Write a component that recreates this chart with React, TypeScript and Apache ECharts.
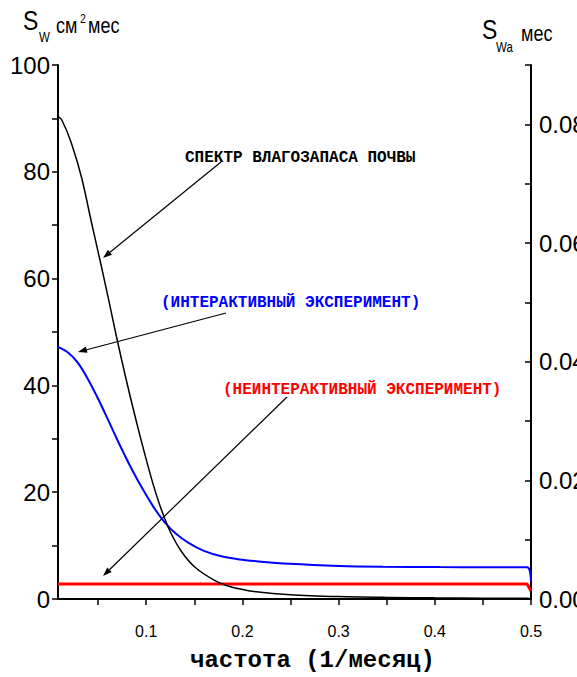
import React, { useEffect, useRef } from "react";
import * as echarts from "echarts";

// ---- data ----
const freqBlack = [0.0083, 0.012, 0.022, 0.033, 0.043, 0.053, 0.061, 0.069, 0.078, 0.088, 0.099, 0.108, 0.116, 0.125, 0.137, 0.151, 0.171, 0.185, 0.197, 0.21, 0.25, 0.3, 0.35, 0.4, 0.45, 0.496, 0.5];
const soilSpectrum = [90.4, 89.8, 85.5, 78.8, 70.6, 62.6, 56, 49.2, 42, 34.5, 26.8, 21, 16.6, 12.6, 8.8, 5.9, 3.5, 2.45, 1.9, 1.45, 0.8, 0.45, 0.3, 0.22, 0.16, 0.12, 0.05];

const freqBlue = [0.0083, 0.019, 0.029, 0.039, 0.05, 0.061, 0.071, 0.078, 0.085, 0.095, 0.107, 0.119, 0.131, 0.144, 0.16, 0.178, 0.197, 0.213, 0.249, 0.301, 0.346, 0.405, 0.45, 0.496, 0.5];
const interactive = [47.2, 46.1, 44.2, 41.3, 37.5, 33.3, 29.4, 26.8, 24.3, 21, 17.4, 14.4, 12.2, 10.5, 9.0, 8.0, 7.4, 7.1, 6.6, 6.2, 6.05, 5.97, 5.95, 5.95, 3.2];

const freqRed = [0.0083, 0.1, 0.2, 0.3, 0.4, 0.496, 0.5];
const nonInteractive = [2.8, 2.8, 2.8, 2.8, 2.8, 2.8, 1.5];

const xLabelValues = [0.1, 0.2, 0.3, 0.4, 0.5];
const xTickValues = [0.05, 0.1, 0.15, 0.2, 0.25, 0.3, 0.35, 0.4, 0.45, 0.5];
const yLabelValues = [0, 20, 40, 60, 80, 100];
const yTickValues = [0, 10, 20, 30, 40, 50, 60, 70, 80, 90, 100];
const y2LabelValues = [0, 0.02, 0.04, 0.06, 0.08];
const y2TickValues = [0, 0.01, 0.02, 0.03, 0.04, 0.05, 0.06, 0.07, 0.08, 0.09];

const SANS = "Liberation Sans";
const MONO = "Liberation Mono";

function arrow(x1: number, y1: number, x2: number, y2: number) {
  const dx = x2 - x1, dy = y2 - y1;
  const len = Math.sqrt(dx * dx + dy * dy);
  const ux = dx / len, uy = dy / len;
  const hl = 9, hw = 3.2;
  const bx = x2 - ux * hl, by = y2 - uy * hl;
  return [
    { type: "line", shape: { x1, y1, x2: bx, y2: by }, style: { stroke: "#000", lineWidth: 1.2 } },
    {
      type: "polygon",
      shape: { points: [[x2, y2], [bx - uy * hw, by + ux * hw], [bx + uy * hw, by - ux * hw]] },
      style: { fill: "#000" },
    },
  ];
}

function txt(text: string, x: number, y: number, size: number, family: string, color = "#000", weight = "normal", scaleX = 1) {
  return {
    type: "text",
    x,
    y,
    scaleX,
    style: {
      text,
      fill: color,
      fontFamily: family,
      fontSize: size,
      fontWeight: weight,
      verticalAlign: "middle",
      align: "left",
    },
  };
}

export default function App() {
  const ref = useRef<HTMLDivElement>(null);
  useEffect(() => {
    document.body.style.margin = "0";
    const chart = echarts.init(ref.current!, null, { renderer: "svg" });
    const pairs = (xs: number[], ys: number[]) => xs.map((x, i) => [x, ys[i]]);
    const N = 0.82;
    chart.setOption({
      animation: false,
      backgroundColor: "#fff",
      grid: { left: 58, right: 46, top: 65, bottom: 78, outerBoundsMode: "none", containLabel: false },
      xAxis: {
        type: "value",
        min: 0.0083,
        max: 0.5,
        axisLine: { show: true, onZero: false, lineStyle: { color: "#000", width: 2 } },
        axisTick: { show: true, customValues: xTickValues, length: 6, lineStyle: { color: "#000", width: 1.5 } },
        axisLabel: {
          customValues: xLabelValues,
          formatter: (v: number) => String(v),
          color: "#000",
          fontFamily: SANS,
          fontSize: 16,
          margin: 24,
        },
        splitLine: { show: false },
      },
      yAxis: [
        {
          type: "value",
          min: 0,
          max: 100,
          position: "left",
          axisLine: { show: true, lineStyle: { color: "#000", width: 2 } },
          axisTick: { show: true, customValues: yTickValues, length: 6, lineStyle: { color: "#000", width: 1.5 } },
          axisLabel: { customValues: yLabelValues, color: "#000", fontFamily: SANS, fontSize: 24, margin: 8 },
          splitLine: { show: false },
        },
        {
          type: "value",
          min: 0,
          max: 0.09,
          position: "right",
          axisLine: { show: true, lineStyle: { color: "#000", width: 2 } },
          axisTick: { show: true, inside: true, customValues: y2TickValues, length: 6, lineStyle: { color: "#000", width: 1.5 } },
          axisLabel: {
            customValues: y2LabelValues,
            formatter: (v: number) => v.toFixed(2),
            color: "#000",
            fontFamily: SANS,
            fontSize: 24,
            margin: 8,
          },
          splitLine: { show: false },
        },
      ],
      series: [
        {
          type: "line",
          yAxisIndex: 0,
          data: pairs(freqRed, nonInteractive),
          showSymbol: false,
          lineStyle: { color: "#ff0000", width: 3 },
          z: 3,
        },
        {
          type: "line",
          yAxisIndex: 0,
          data: pairs(freqBlue, interactive),
          showSymbol: false,
          smooth: 0.3,
          lineStyle: { color: "#0000ff", width: 2 },
          z: 4,
        },
        {
          type: "line",
          yAxisIndex: 0,
          data: pairs(freqBlack, soilSpectrum),
          showSymbol: false,
          smooth: 0.3,
          lineStyle: { color: "#000", width: 1.5 },
          z: 5,
        },
      ],
      graphic: [
        // left axis title
        txt("S", 23, 20, 28, SANS, "#000", "normal", N),
        txt("W", 39, 37, 14, SANS, "#000", "normal", N),
        txt("см", 56, 25, 22, SANS, "#000", "normal", N),
        txt("2", 80, 19, 13, SANS, "#000", "normal", N),
        txt("мес", 88, 25, 22, SANS, "#000", "normal", N),
        // right axis title
        txt("S", 482, 29, 28, SANS, "#000", "normal", N),
        txt("Wa", 496, 47.5, 14, SANS, "#000", "normal", N),
        txt("мес", 521, 33, 22, SANS, "#000", "normal", N),
        // x axis title
        txt("частота (1/месяц)", 190, 660, 24, MONO, "#000", "bold"),
        // annotations
        txt("СПЕКТР ВЛАГОЗАПАСА ПОЧВЫ", 185, 158, 16, MONO, "#000", "bold"),
        txt("(ИНТЕРАКТИВНЫЙ ЭКСПЕРИМЕНТ)", 161, 303, 16, MONO, "#0000ff", "bold"),
        txt("(НЕИНТЕРАКТИВНЫЙ ЭКСПЕРИМЕНТ)", 223, 390, 16, MONO, "#ff0000", "bold"),
        ...arrow(221, 162, 103, 258),
        ...arrow(226, 313, 78, 352),
        ...arrow(287, 397, 103, 576),
      ],
    });
    return () => chart.dispose();
  }, []);
  return <div ref={ref} style={{ width: 577, height: 677 }} />;
}
